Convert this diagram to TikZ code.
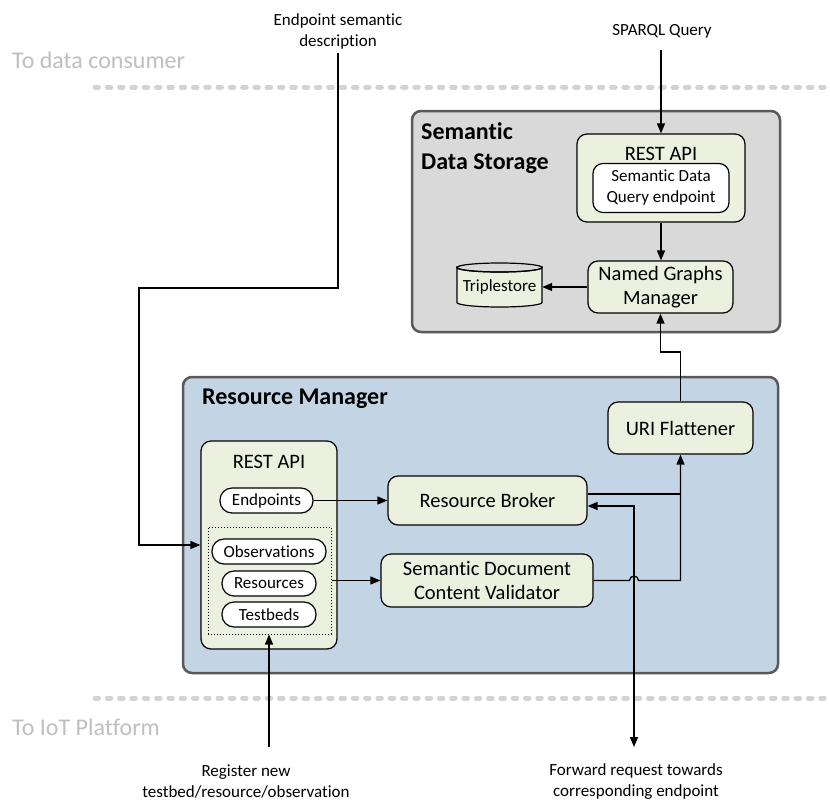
\documentclass[tikz,border=0pt]{standalone}
\usepackage{fontspec}
\setmainfont{Carlito}[Ligatures=NoCommon]
\usetikzlibrary{arrows.meta,calc}
\definecolor{rmfill}{HTML}{C3D5E5}
\definecolor{sdsfill}{HTML}{D9D9D9}
\definecolor{bordergray}{HTML}{595959}
\definecolor{compfill}{HTML}{EBF1DE}
\definecolor{sepgray}{HTML}{D3D3D3}
\definecolor{fainttext}{HTML}{BFBFBF}
\begin{document}
\begin{tikzpicture}[x=1pt,y=-1pt,
  bigbox/.style={draw=bordergray, line width=2.5pt, rounded corners=9pt, inner sep=0pt},
  compbox/.style={draw=black, line width=1.2pt, fill=compfill, rounded corners=10pt, inner sep=0pt, align=center, font=\fontsize{20.5}{24}\selectfont},
  pill/.style={draw=black, line width=1.2pt, fill=white, rounded corners=12pt, inner sep=0pt, align=center, font=\fontsize{17}{21}\selectfont},
  conn/.style={line width=1.3pt, -{Triangle[length=10pt,width=8pt]}},
  dconn/.style={line width=1.3pt, {Triangle[length=10pt,width=8pt]}-{Triangle[length=10pt,width=8pt]}},
  plain/.style={line width=1.3pt},
  sepline/.style={line width=5pt, draw=sepgray, line cap=round, dash pattern=on 3.5pt off 8.8pt},
  ext/.style={align=center, inner sep=0pt, font=\fontsize{17}{21}\selectfont},
  faint/.style={text=fainttext, anchor=west, inner sep=0pt, font=\fontsize{24}{28}\selectfont},
  boxtitle/.style={anchor=west, align=left, inner sep=0pt, font=\fontsize{24}{30}\selectfont\bfseries}
]
\useasboundingbox (0,0) rectangle (830,801);

% separators and side labels
\coordinate (sepTa) at (95,87);
\coordinate (sepTb) at (830,87);
\coordinate (sepBa) at (95,698);
\coordinate (sepBb) at (830,698);
\draw[sepline] (sepTa) -- (sepTb);
\draw[sepline] (sepBa) -- (sepBb);
\node[faint] (toconsumer) at (12,60) {To data consumer};
\node[faint] (toiot) at (12,727) {To IoT Platform};

% Semantic Data Storage
\node[bigbox, fill=sdsfill, minimum width=368pt, minimum height=221pt] (sds) at (596,221.5) {};
\node[boxtitle] (sdstitle) at (421,148) {Semantic\\Data Storage};
\node[compbox, minimum width=168pt, minimum height=88pt] (sdsrest) at (661,178) {};
\node[inner sep=0pt, font=\fontsize{20.5}{24}\selectfont] (sdsrestlbl) at (661,154) {REST API};
\node[pill, rounded corners=10pt, minimum width=136pt, minimum height=49pt] (sdsq) at (661,188) {Semantic Data\\Query endpoint};
\node[compbox, minimum width=145pt, minimum height=52pt] (ngm) at (660.5,287) {Named Graphs\\Manager};
% triplestore cylinder
\draw[line width=1.2pt, fill=compfill] (457,267.5) -- (457,302.5)
   arc[start angle=180, end angle=0, x radius=42.5, y radius=4.5] -- (542,267.5)
   arc[start angle=0, end angle=180, x radius=42.5, y radius=4.5] -- cycle;
\draw[line width=1.2pt] (499.5,267.5) ellipse [x radius=42.5, y radius=4.5];
\node[inner sep=0pt, minimum width=85pt, minimum height=40pt, font=\fontsize{17}{21}\selectfont] (triple) at (499.5,287) {Triplestore};

% Resource Manager
\node[bigbox, fill=rmfill, minimum width=595pt, minimum height=296pt] (rm) at (480.5,525) {};
\node[boxtitle] (rmtitle) at (202,399) {Resource Manager};
\node[compbox, minimum width=136pt, minimum height=208pt] (rmrest) at (269,545) {};
\node[inner sep=0pt, font=\fontsize{20.5}{24}\selectfont] (rmrestlbl) at (269,462) {REST API};
\node[pill, minimum width=93pt, minimum height=25pt] (endp) at (266.5,500.5) {Endpoints};
\node[draw=black, line width=1pt, dotted, minimum width=123pt, minimum height=107pt, inner sep=0pt] (dotbox) at (269.5,580.5) {};
\node[pill, minimum width=114pt, minimum height=25pt] (obs) at (269,551.5) {Observations};
\node[pill, minimum width=94pt, minimum height=25pt] (res) at (269,583.5) {Resources};
\node[pill, minimum width=94pt, minimum height=25pt] (tbd) at (269,614.5) {Testbeds};
\node[compbox, minimum width=199pt, minimum height=49pt] (broker) at (487.5,500.5) {Resource Broker};
\node[compbox, minimum width=212pt, minimum height=53pt] (valid) at (487,580.5) {Semantic Document\\Content Validator};
\node[compbox, minimum width=145pt, minimum height=52pt] (uri) at (680.5,428) {URI Flattener};

% external labels
\node[ext] (sparql) at (662,31) {SPARQL Query};
\node[ext] (desc) at (338,31) {Endpoint semantic\\description};
\node[ext] (register) at (246,781.5) {Register new\\testbed/resource/observation};
\node[ext] (forward) at (636,781.5) {Forward request towards\\corresponding endpoint};

% connectors
\coordinate (spqstart) at (661,50);
\draw[conn] (spqstart) -- (sdsrest.north);
\draw[conn] (sdsrest.south) -- (sdsrest.south |- ngm.north);
\draw[conn] (ngm.west |- triple.east) -- (triple.east);
\coordinate (jog) at (670,352);
\draw[conn] (uri.north) |- (jog) -| (ngm.south);

\coordinate (descstart) at (338,53);
\coordinate (descturn) at (139,288);
\draw[conn] (descstart) |- (descturn) |- (rmrest.west);

\draw[conn] (endp.east) -- (endp.east -| broker.west);
\draw[conn] (dotbox.east) -- (valid.west);
\coordinate (regstart) at (269,747);
\draw[conn] (regstart) -- (regstart |- dotbox.south);

\coordinate (bout) at ($(broker.east)+(0,-6.5)$);
\draw[plain] (bout) -- (bout -| uri.south);
\coordinate (bump) at (629.5,580.5);
\coordinate (vcorner) at (680.5,580.5);
\draw[conn] (valid.east) -- (bump) arc[start angle=180, end angle=360, radius=4.5] -- (vcorner) -- (uri.south);
\coordinate (bin) at ($(broker.east)+(0,5.5)$);
\coordinate (fwdend) at (634,747);
\draw[dconn] (bin) -| (fwdend);
\end{tikzpicture}
\end{document}
